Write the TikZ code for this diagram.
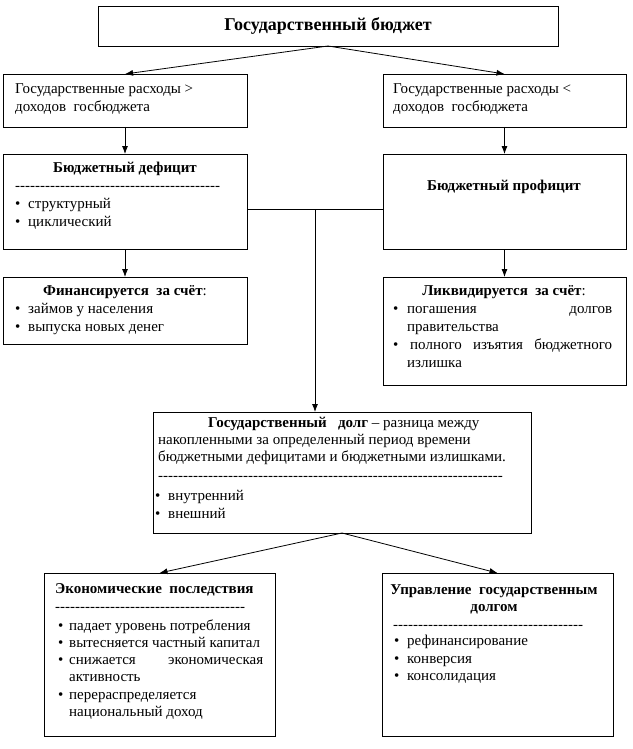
\documentclass[tikz,border=0pt]{standalone}
\usepackage{fontspec}
\setmainfont{Liberation Serif}
\usetikzlibrary{arrows.meta}
\newcommand\dashrow[1]{\foreach \k in {1,...,#1}{-\kern0pt}}
\begin{document}
\begin{tikzpicture}[x=1pt,y=-1pt,
  box/.style={draw, line width=0.9pt, inner sep=0pt, outer sep=0pt, anchor=north west},
  txt/.style={inner sep=0pt, anchor=base west, font=\fontsize{15}{18}\selectfont},
  ctxt/.style={txt, anchor=base},
  bul/.style={txt},
  arr/.style={line width=0.8pt, -{Latex[length=8pt,width=6pt]}},
  ln/.style={line width=0.8pt}]
\useasboundingbox (0,0) rectangle (632,749);
% boxes
\node[box, minimum width=460pt, minimum height=40pt] (top) at (98,6) {};
\node[box, minimum width=244pt, minimum height=53pt] (l1) at (3,74) {};
\node[box, minimum width=243pt, minimum height=53pt] (r1) at (383,74) {};
\node[box, minimum width=244pt, minimum height=95pt] (l2) at (3,154) {};
\node[box, minimum width=243pt, minimum height=95pt] (r2) at (383,154) {};
\node[box, minimum width=244pt, minimum height=67pt] (l3) at (3,277) {};
\node[box, minimum width=243pt, minimum height=108pt] (r3) at (383,277) {};
\node[box, minimum width=378pt, minimum height=121pt] (m) at (153,412) {};
\node[box, minimum width=231pt, minimum height=163pt] (bl) at (44,573) {};
\node[box, minimum width=231pt, minimum height=163pt] (br) at (382,573) {};
% texts
\node[ctxt, font=\fontsize{18}{21}\selectfont\bfseries] (ttop) at (328,31) {Государственный бюджет};
\node[txt] (tl1a) at (15,94) {Государственные расходы >};
\node[txt] (tl1b) at (15,112) {доходов\ \ госбюджета};
\node[txt] (tr1a) at (393,94) {Государственные расходы <};
\node[txt] (tr1b) at (393,112) {доходов\ \ госбюджета};
% deficit
\node[ctxt, font=\fontsize{15}{18}\selectfont\bfseries] (tl2h) at (125,172) {Бюджетный дефицит};
\node[txt] (tl2d) at (15,190) {\dashrow{41}};
\node[bul] (tl2b1) at (15,208) {•};
\node[txt] (tl2a) at (28,208) {структурный};
\node[bul] (tl2b2) at (15,226) {•};
\node[txt] (tl2c) at (28,226) {циклический};
% profit
\node[ctxt, font=\fontsize{15}{18}\selectfont\bfseries] (tr2h) at (504,190) {Бюджетный профицит};
% financing
\node[ctxt] (tl3h) at (125,295) {\textbf{Финансируется\ \ за счёт}:};
\node[bul] (tl3b1) at (15,313) {•};
\node[txt] (tl3a) at (28,313) {займов у населения};
\node[bul] (tl3b2) at (15,331) {•};
\node[txt] (tl3c) at (28,331) {выпуска новых денег};
% liquidation
\node[ctxt] (tr3h) at (504,295) {\textbf{Ликвидируется\ \ за счёт}:};
\node[bul] (tr3b1) at (393,313) {•};
\node[txt] (tr3a) at (407,313) {\makebox[205pt][s]{погашения долгов}};
\node[txt] (tr3b) at (407,331) {правительства};
\node[bul] (tr3b2) at (393,349) {•};
\node[txt] (tr3c) at (410,349) {\makebox[202pt][s]{полного изъятия бюджетного}};
\node[txt] (tr3d) at (407,367) {излишка};
% debt
\node[txt] (tm1) at (208,427) {\textbf{Государственный\ \ \ долг} – разница между};
\node[txt] (tm2) at (158,444) {накопленными за определенный период времени};
\node[txt] (tm3) at (158,461) {бюджетными дефицитами и бюджетными излишками.};
\node[txt] (tmd) at (158,480) {\dashrow{69}};
\node[bul] (tmb1) at (155,500) {•};
\node[txt] (tma) at (168,500) {внутренний};
\node[bul] (tmb2) at (155,518) {•};
\node[txt] (tmb) at (168,518) {внешний};
% consequences
\node[txt, font=\fontsize{15}{18}\selectfont\bfseries] (tblh) at (55,593) {Экономические\ \ последствия};
\node[txt] (tbld) at (55,611) {\dashrow{38}};
\node[bul] (tblb1) at (58,630) {•};
\node[txt] (tbl1) at (69,630) {падает уровень потребления};
\node[bul] (tblb2) at (58,647) {•};
\node[txt] (tbl2) at (69,647) {вытесняется частный капитал};
\node[bul] (tblb3) at (58,664) {•};
\node[txt] (tbl3) at (69,664) {\makebox[194pt][s]{снижается экономическая}};
\node[txt] (tbl4) at (69,681) {активность};
\node[bul] (tblb4) at (58,699) {•};
\node[txt] (tbl5) at (69,699) {перераспределяется};
\node[txt] (tbl6) at (69,716) {национальный доход};
% management
\node[ctxt, font=\fontsize{15}{18}\selectfont\bfseries] (tbrh1) at (494,594) {Управление\ \ государственным};
\node[ctxt, font=\fontsize{15}{18}\selectfont\bfseries] (tbrh2) at (494,611) {долгом};
\node[txt] (tbrd) at (393,629) {\dashrow{38}};
\node[bul] (tbrb1) at (394,645) {•};
\node[txt] (tbr1) at (407,645) {рефинансирование};
\node[bul] (tbrb2) at (394,663) {•};
\node[txt] (tbr2) at (407,663) {конверсия};
\node[bul] (tbrb3) at (394,680) {•};
\node[txt] (tbr3) at (407,680) {консолидация};
% connectors
\draw[arr] (top.south) -- (l1.north);
\draw[arr] (top.south) -- (r1.north);
\draw[arr] (l1.south) -- (l2.north);
\draw[arr] (r1.south) -- (r2.north);
\draw[arr] (l2.south) -- (l3.north);
\draw[arr] (r2.south) -- (r3.north);
\coordinate (j) at (315,209);
\draw[ln] (l2.east |- j) -- (r2.west |- j);
\draw[arr] (j) -- (j |- m.north);
\draw[arr] (m.south) -- (bl.north);
\draw[arr] (m.south) -- (br.north);
\end{tikzpicture}
\end{document}
